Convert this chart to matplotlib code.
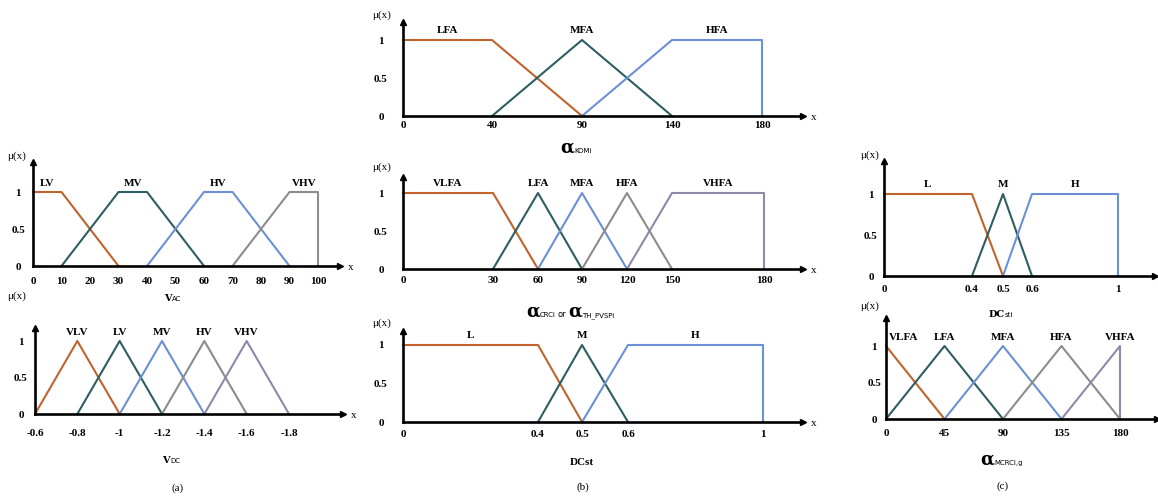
import numpy as np
import matplotlib.pyplot as plt

W, H = 1158, 498
SERIF = "Liberation Serif"
COLORS = ["#c0632c", "#2e5d62", "#6b90d6", "#8c8c8c", "#8f88aa"]

# --- membership functions ---
vac_names = ["LV", "MV", "HV", "VHV"]
vac_x = [[0, 10, 30], [10, 30, 40, 60], [40, 60, 70, 90], [70, 90, 100, 100]]
vac_mu = [[1, 1, 0], [0, 1, 1, 0], [0, 1, 1, 0], [0, 1, 1, 0]]
vac_ticks = [0, 10, 20, 30, 40, 50, 60, 70, 80, 90, 100]

vdc_names = ["VLV", "LV", "MV", "HV", "VHV"]
vdc_x = [[-0.6, -0.8, -1.0], [-0.8, -1.0, -1.2], [-1.0, -1.2, -1.4],
         [-1.2, -1.4, -1.6], [-1.4, -1.6, -1.8]]
vdc_mu = [[0, 1, 0]] * 5
vdc_ticks = [-0.6, -0.8, -1.0, -1.2, -1.4, -1.6, -1.8]

kom_names = ["LFA", "MFA", "HFA"]
kom_x = [[0, 40, 90], [40, 90, 140], [90, 140, 180, 180]]
kom_mu = [[1, 1, 0], [0, 1, 0], [0, 1, 1, 0]]
kom_ticks = [0, 40, 90, 140, 180]

crc_names = ["VLFA", "LFA", "MFA", "HFA", "VHFA"]
crc_x = [[0, 30, 60], [30, 60, 90], [60, 90, 120], [90, 120, 150], [120, 150, 180, 180]]
crc_mu = [[1, 1, 0], [0, 1, 0], [0, 1, 0], [0, 1, 0], [0, 1, 1, 0]]
crc_ticks = [0, 30, 60, 90, 120, 150, 180]

dc_names = ["L", "M", "H"]
dc_x = [[0, 0.4, 0.5], [0.4, 0.5, 0.6], [0.5, 0.6, 1, 1]]
dc_mu = [[1, 1, 0], [0, 1, 0], [0, 1, 1, 0]]
dc_ticks = [0, 0.4, 0.5, 0.6, 1]

mcrc_names = ["VLFA", "LFA", "MFA", "HFA", "VHFA"]
mcrc_x = [[0, 45], [0, 45, 90], [45, 90, 135], [90, 135, 180], [135, 180, 180]]
mcrc_mu = [[1, 0], [0, 1, 0], [0, 1, 0], [0, 1, 0], [0, 1, 0]]
mcrc_ticks = [0, 45, 90, 135, 180]

fig = plt.figure(figsize=(W / 100, H / 100), dpi=100)


def make_warp(ticks, px):
    # piecewise-linear axis: breakpoints get their own spacing
    t = np.asarray(ticks, float)
    p = np.asarray(px, float)
    big = 1e3 * (t[-1] - t[0])
    s0 = (p[1] - p[0]) / (t[1] - t[0])
    s1 = (p[-1] - p[-2]) / (t[-1] - t[-2])
    t = np.r_[t[0] - big, t, t[-1] + big]
    p = np.r_[p[0] - big * s0, p, p[-1] + big * s1]
    return (lambda x: np.interp(x, t, p)), (lambda y: np.interp(y, p, t))


def panel(names, xs, mus, ticks, tick_px, arrow_px, y0, y1, ytop,
          ypad, xpad, mu_xy, warp=False, x_arrow=True):
    left = tick_px[0]
    ax = fig.add_axes([left / W, 1 - y0 / H, (arrow_px - left) / W, (y0 - ytop) / H])
    if warp:
        fwd, inv = make_warp(ticks, tick_px)
        ax.set_xscale("function", functions=(fwd, inv))
        ax.set_xlim(ticks[0], float(inv(arrow_px)))
    else:
        slope = (ticks[-1] - ticks[0]) / (tick_px[-1] - tick_px[0])
        ax.set_xlim(ticks[0], ticks[0] + (arrow_px - left) * slope)
    ax.set_ylim(0, (y0 - ytop) / (y0 - y1))

    for i, (name, x, mu) in enumerate(zip(names, xs, mus)):
        ax.plot(x, mu, color=COLORS[i], lw=1.5, clip_on=False, zorder=2)
        top = [xx for xx, m in zip(x, mu) if m == 1]
        cx = (min(top) + max(top)) / 2
        if cx == ticks[0] and len(top) == 1:
            # peak sits on the y axis, keep the name clear of it
            ax.annotate(name, xy=(cx, 1.12), xytext=(2, 0), textcoords="offset points",
                        ha="left", va="center", fontsize=8, fontweight="bold", family=SERIF)
        else:
            ax.text(cx, 1.12, name, ha="center", va="center", fontsize=8,
                    fontweight="bold", family=SERIF)

    for s in ["top", "right"]:
        ax.spines[s].set_visible(False)
    for s in ["left", "bottom"]:
        ax.spines[s].set_linewidth(1.9)
        ax.spines[s].set_zorder(3)
    ax.plot(1, 0, ">", color="k", ms=5, transform=ax.transAxes, clip_on=False)
    ax.plot(0, 1, "^", color="k", ms=5, transform=ax.transAxes, clip_on=False)

    ax.set_xticks(ticks)
    ax.set_xticklabels([f"{t:g}" for t in ticks])
    ax.set_yticks([0, 0.5, 1])
    ax.set_yticklabels(["0", "0.5", "1"])
    ax.tick_params(axis="both", length=0, labelsize=8)
    ax.tick_params(axis="x", pad=xpad * 0.72)
    ax.tick_params(axis="y", pad=ypad * 0.72)
    for lab in ax.get_xticklabels():
        lab.set_va("center")
        lab.set_fontfamily(SERIF)
        lab.set_fontweight("bold")
    for lab in ax.get_yticklabels():
        lab.set_ha("center")
        lab.set_fontfamily(SERIF)
        lab.set_fontweight("bold")
    ax.patch.set_visible(False)

    fig.text(mu_xy[0] / W, 1 - mu_xy[1] / H, "μ(x)", ha="center", va="center",
             fontsize=8, family=SERIF)
    if x_arrow:
        ax.annotate("x", xy=(1, 0), xycoords="axes fraction", xytext=(8, -1),
                    textcoords="offset points", ha="center", va="center",
                    fontsize=8, family=SERIF)
    return ax


def sub_label(x, y, main, sub, size=13, subsize=5):
    fig.text(x / W, 1 - y / H, main, ha="right", va="baseline", fontsize=size,
             fontweight="bold", family="DejaVu Serif")
    fig.text(x / W, 1 - y / H, sub, ha="left", va="baseline", fontsize=subsize,
             family="DejaVu Sans")


# (a)
panel(vac_names, vac_x, vac_mu, vac_ticks, [33, 318], 340, 266, 192, 162,
      15, 16, (17, 156))
panel(vdc_names, vdc_x, vdc_mu, vdc_ticks, [35, 289], 343, 414, 341, 328,
      14, 19, (17, 296))
sub_label(172, 301, "V", "AC", size=7)
sub_label(170, 463, "V", "DC", size=7)
fig.text(178 / W, 1 - 488 / H, "(a)", ha="center", va="center", fontsize=8, family=SERIF)

# (b)
panel(kom_names, kom_x, kom_mu, kom_ticks, [403, 492, 582, 672, 762], 803,
      116, 40, 22, 22, 10, (382, 15), warp=True)
panel(crc_names, crc_x, crc_mu, crc_ticks, [403, 493, 538, 582, 627, 672, 764], 803,
      269, 193, 177, 22, 11, (382, 167), warp=True)
panel(dc_names, dc_x, dc_mu, dc_ticks, [403, 538, 582, 628, 763], 803,
      422, 345, 331, 22, 12, (382, 323), warp=True)
sub_label(574, 153, "α", "KOMi")
sub_label(540, 317, "α", "CRCi")
fig.text(557 / W, 1 - 317 / H, "or", ha="left", va="baseline", fontsize=6,
         family="DejaVu Sans")
sub_label(582, 317, "α", "TH_PVSPi")
fig.text(582 / W, 1 - 462 / H, "DCst", ha="center", va="center", fontsize=8,
         fontweight="bold", family=SERIF)
fig.text(583 / W, 1 - 487 / H, "(b)", ha="center", va="center", fontsize=8, family=SERIF)

# (c)
panel(dc_names, dc_x, dc_mu, dc_ticks, [884, 972, 1003, 1032, 1118], 1155,
      276, 194, 161, 13, 13, (870, 155), warp=True, x_arrow=False)
panel(mcrc_names, mcrc_x, mcrc_mu, mcrc_ticks, [886, 1120], 1157,
      419, 346, 318, 12, 14, (870, 306), x_arrow=False)
sub_label(1005, 317, "DC", "sti", size=7)
sub_label(994, 465, "α", "MCRCi,g")
fig.text(1003 / W, 1 - 486 / H, "(c)", ha="center", va="center", fontsize=8, family=SERIF)

fig.savefig("out.png", dpi=100)
